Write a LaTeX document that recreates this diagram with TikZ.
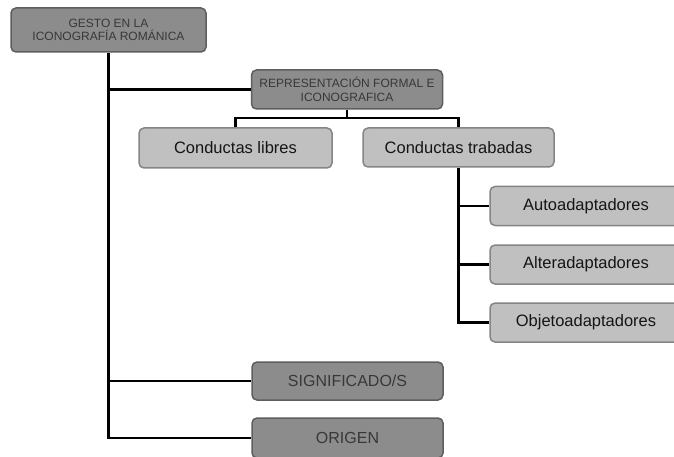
\documentclass[tikz,border=0pt]{standalone}
\usepackage{fontspec}
\setmainfont{Liberation Sans}
\definecolor{darkfill}{HTML}{8C8C8C}
\definecolor{darkline}{HTML}{5E5E5E}
\definecolor{lightfill}{HTML}{C0C0C0}
\definecolor{lightline}{HTML}{858585}
\definecolor{smalltext}{HTML}{383838}
\definecolor{bigtext}{HTML}{151515}
\begin{document}
\begin{tikzpicture}[x=1pt,y=-1pt,
  darkbox/.style={draw=darkline,fill=darkfill,line width=1.5pt,rounded corners=5pt,
    minimum width=193pt,inner sep=0pt,align=center,text=smalltext},
  lightbox/.style={draw=lightline,fill=lightfill,line width=1.5pt,rounded corners=5pt,
    minimum width=192pt,minimum height=39pt,inner sep=0pt,align=center,text=bigtext,
    font=\fontsize{16.5}{19}\selectfont},
  conn/.style={draw=black,line width=2.8pt}]
\useasboundingbox (0,0) rectangle (674,457);
\clip (0,0) rectangle (674,457);
% nodes
\node[darkbox,minimum width=195pt,minimum height=44pt,font=\fontsize{12}{13.5}\selectfont]
  (gesto) at (108.5,30) {GESTO EN LA\\ICONOGRAFÍA ROMÁNICA};
\node[darkbox,minimum width=191pt,minimum height=39pt,font=\fontsize{12}{14}\selectfont]
  (rep) at (347,89.5) {REPRESENTACIÓN FORMAL E\\ICONOGRAFICA};
\node[lightbox,minimum width=193pt,minimum height=40pt] (libres) at (235.5,148) {Conductas libres};
\node[lightbox,minimum width=191pt] (trab) at (458.5,147.5) {Conductas trabadas};
\node[lightbox] (auto) at (586,206) {Autoadaptadores};
\node[lightbox] (alter) at (586,264.5) {Alteradaptadores};
\node[lightbox] (objeto) at (586,322.5) {Objetoadaptadores};
\node[darkbox,minimum width=191pt,minimum height=38pt,font=\fontsize{16}{19}\selectfont]
  (signif) at (347.5,381) {SIGNIFICADO/S};
\node[darkbox,minimum width=191pt,minimum height=40pt,font=\fontsize{16}{19}\selectfont]
  (origen) at (347.5,438) {ORIGEN};
% connectors
\coordinate (repjoin) at (347,118);
\draw[conn] (gesto.south) |- (origen.west);
\draw[conn] (gesto.south |- rep.west) -- (rep.west);
\draw[conn] (gesto.south |- signif.west) -- (signif.west);
\draw[conn] (rep.south) -- (repjoin);
\draw[conn] (libres.north) |- (repjoin) -| (trab.north);
\draw[conn] (trab.south) |- (objeto.west);
\draw[conn] (trab.south |- auto.west) -- (auto.west);
\draw[conn] (trab.south |- alter.west) -- (alter.west);
\end{tikzpicture}
\end{document}
